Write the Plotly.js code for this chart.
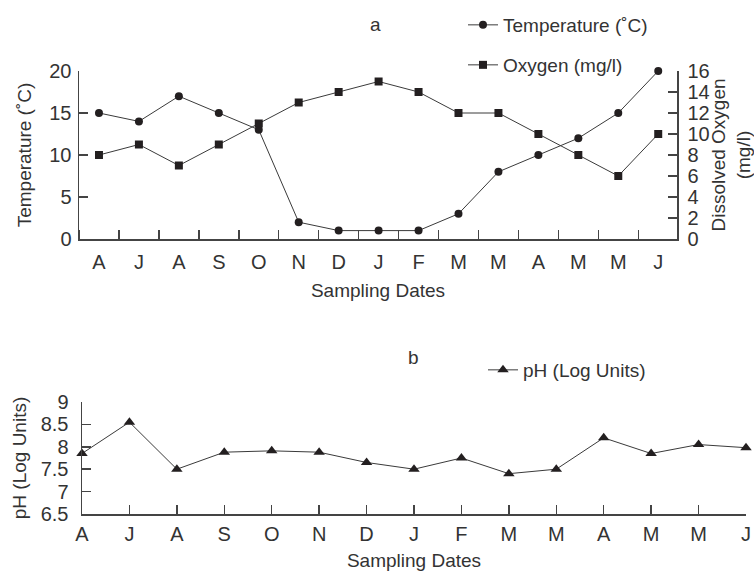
<!DOCTYPE html>
<html>
<head>
<meta charset="utf-8">
<script src="https://cdn.plot.ly/plotly-3.0.1.min.js"></script>
<style>html,body{margin:0;padding:0;background:#fff;}#chart{width:754px;height:572px;}</style>
</head>
<body>
<div id="chart"></div>
<script>
// ---- data ----
var monthLabels = ["A","J","A","S","O","N","D","J","F","M","M","A","M","M","J"];
var monthIndex = [0,1,2,3,4,5,6,7,8,9,10,11,12,13,14];
var temperature = [15,14,17,15,13,2,1,1,1,3,8,10,12,15,20];
var oxygen = [8,9,7,9,11,13,14,15,14,12,12,10,8,6,10];
var ph = [7.85,8.55,7.5,7.88,7.91,7.88,7.65,7.5,7.75,7.4,7.5,8.2,7.85,8.05,7.98];
var tempTicks = [0,5,10,15,20];
var oxyTicks = [0,2,4,6,8,10,12,14,16];
var phTicks = [6.5,7,7.5,8,8.5,9];

var W = 754, H = 572;
function px(x){ return x / W; }
function py(y){ return 1 - y / H; }

var FONT = "Liberation Sans, Arial, sans-serif";
var INK = "#231f20";
var LINE = "#3a3a3a";
var TXT = "#333";

var traces = [
  {
    x: monthIndex, y: temperature, name: "Temperature (˚C)",
    type: "scatter", mode: "lines+markers",
    xaxis: "x", yaxis: "y", legend: "legend",
    line: {color: LINE, width: 1},
    marker: {symbol: "circle", size: 8, color: INK},
    cliponaxis: false
  },
  {
    x: monthIndex, y: oxygen, name: "Oxygen (mg/l)",
    type: "scatter", mode: "lines+markers",
    xaxis: "x", yaxis: "y2", legend: "legend2",
    line: {color: LINE, width: 1},
    marker: {symbol: "square", size: 8, color: INK},
    cliponaxis: false
  },
  {
    x: monthIndex, y: ph, name: "pH (Log Units)",
    type: "scatter", mode: "lines+markers",
    xaxis: "x2", yaxis: "y3", legend: "legend3",
    line: {color: LINE, width: 1},
    marker: {symbol: "triangle-up", size: 10, color: INK},
    cliponaxis: false
  }
];

var axisCommon = {
  showgrid: false, zeroline: false, showline: true,
  linecolor: "#444", linewidth: 1.5,
  tickcolor: "#444", tickwidth: 1.5,
  tickfont: {family: FONT, size: 20, color: TXT},
  fixedrange: true
};
var titleFont = {family: FONT, size: 19, color: TXT};

var layout = {
  width: W, height: H,
  margin: {l: 0, r: 0, t: 0, b: 0},
  paper_bgcolor: "#fff", plot_bgcolor: "rgba(0,0,0,0)",
  font: {family: FONT, size: 19, color: TXT},
  showlegend: true,
  xaxis: Object.assign({}, axisCommon, {
    domain: [px(79), px(677)],
    range: [-0.5, 14.47],
    tickmode: "array", tickvals: monthIndex, ticktext: monthLabels,
    ticks: "", ticklen: 0, ticklabelstandoff: 4,
    minor: {tick0: 0.5, dtick: 1, ticks: "inside", ticklen: 9, tickcolor: "#444", tickwidth: 1.5},
    title: {text: "Sampling Dates", font: titleFont, standoff: 12},
    anchor: "y"
  }),
  yaxis: Object.assign({}, axisCommon, {
    domain: [py(239), py(71)],
    range: [0, 20],
    tickmode: "array", tickvals: tempTicks,
    ticks: "inside", ticklen: 9, ticklabelstandoff: 2,
    title: {text: "Temperature (˚C)", font: titleFont, standoff: 12},
    anchor: "x"
  }),
  yaxis2: Object.assign({}, axisCommon, {
    overlaying: "y", side: "right", anchor: "x",
    range: [0, 16],
    tickmode: "array", tickvals: oxyTicks,
    ticks: "inside", ticklen: 9, ticklabelstandoff: 5,
    title: {text: "Dissolved Oxygen<br>(mg/l)", font: titleFont, standoff: 6}
  }),
  xaxis2: Object.assign({}, axisCommon, {
    domain: [px(82), px(746)],
    range: [0, 14],
    tickmode: "array", tickvals: monthIndex, ticktext: monthLabels,
    ticks: "inside", ticklen: 9, ticklabelstandoff: 1,
    title: {text: "Sampling Dates", font: titleFont, standoff: 10},
    anchor: "y3"
  }),
  yaxis3: Object.assign({}, axisCommon, {
    domain: [py(514), py(402)],
    range: [6.5, 9],
    tickmode: "array", tickvals: phTicks,
    ticks: "inside", ticklen: 9, ticklabelstandoff: 8,
    title: {text: "pH (Log Units)", font: titleFont, standoff: 9},
    anchor: "x2"
  }),
  legend: {
    x: px(463), y: py(25), xanchor: "left", yanchor: "middle",
    bgcolor: "rgba(0,0,0,0)", borderwidth: 0,
    font: {family: FONT, size: 19, color: TXT}
  },
  legend2: {
    x: px(463), y: py(65), xanchor: "left", yanchor: "middle",
    bgcolor: "rgba(0,0,0,0)", borderwidth: 0,
    font: {family: FONT, size: 19, color: TXT}
  },
  legend3: {
    x: px(483), y: py(370), xanchor: "left", yanchor: "middle",
    bgcolor: "rgba(0,0,0,0)", borderwidth: 0,
    font: {family: FONT, size: 19, color: TXT}
  },
  annotations: [
    {text: "a", x: px(375), y: py(24), xref: "paper", yref: "paper",
     showarrow: false, xanchor: "center", yanchor: "middle",
     font: {family: FONT, size: 19, color: TXT}},
    {text: "b", x: px(413), y: py(357), xref: "paper", yref: "paper",
     showarrow: false, xanchor: "center", yanchor: "middle",
     font: {family: FONT, size: 19, color: TXT}}
  ]
};

Plotly.newPlot("chart", traces, layout, {displayModeBar: false, staticPlot: true});
</script>
</body>
</html>
